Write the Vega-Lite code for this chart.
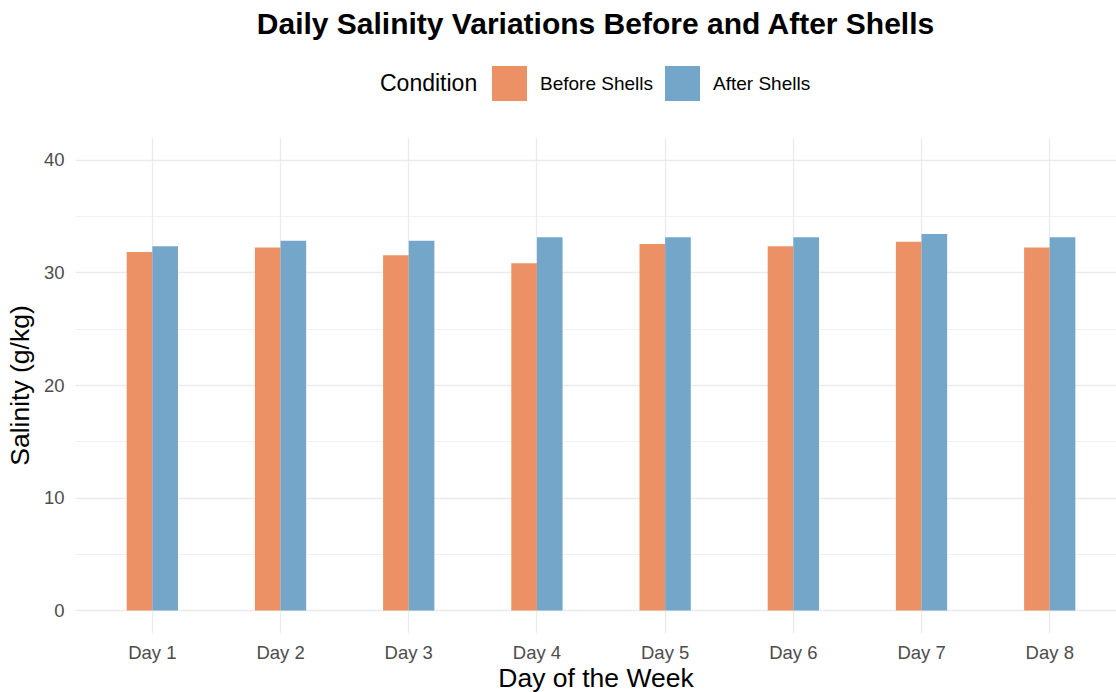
{
  "$schema": "https://vega.github.io/schema/vega-lite/v6.json",
  "width": 1041,
  "height": 496,
  "autosize": {"type": "none"},
  "padding": {"left": 75, "top": 137, "right": 0, "bottom": 59},
  "background": "white",
  "title": {
    "text": "Daily Salinity Variations Before and After Shells",
    "fontSize": 30,
    "fontWeight": "bold",
    "font": "Liberation Sans",
    "color": "black",
    "anchor": "middle",
    "offset": 26
  },
  "data": {
    "values": [
      {"Day": "Day 1", "Condition": "Before Shells", "Salinity": 31.8},
      {"Day": "Day 1", "Condition": "After Shells", "Salinity": 32.3},
      {"Day": "Day 2", "Condition": "Before Shells", "Salinity": 32.2},
      {"Day": "Day 2", "Condition": "After Shells", "Salinity": 32.8},
      {"Day": "Day 3", "Condition": "Before Shells", "Salinity": 31.5},
      {"Day": "Day 3", "Condition": "After Shells", "Salinity": 32.8},
      {"Day": "Day 4", "Condition": "Before Shells", "Salinity": 30.8},
      {"Day": "Day 4", "Condition": "After Shells", "Salinity": 33.1},
      {"Day": "Day 5", "Condition": "Before Shells", "Salinity": 32.5},
      {"Day": "Day 5", "Condition": "After Shells", "Salinity": 33.1},
      {"Day": "Day 6", "Condition": "Before Shells", "Salinity": 32.3},
      {"Day": "Day 6", "Condition": "After Shells", "Salinity": 33.1},
      {"Day": "Day 7", "Condition": "Before Shells", "Salinity": 32.7},
      {"Day": "Day 7", "Condition": "After Shells", "Salinity": 33.4},
      {"Day": "Day 8", "Condition": "Before Shells", "Salinity": 32.2},
      {"Day": "Day 8", "Condition": "After Shells", "Salinity": 33.1}
    ]
  },
  "mark": {"type": "bar", "stroke": null},
  "encoding": {
    "x": {
      "field": "Day",
      "type": "nominal",
      "scale": {"paddingInner": 0.6, "paddingOuter": 0.36, "align": 0.56},
      "axis": {
        "title": "Day of the Week",
        "labelAngle": 0,
        "labelFontSize": 18.5,
        "labelColor": "#4d4d4d",
        "labelFont": "Liberation Sans",
        "labelPadding": 10,
        "titleFontSize": 26.5,
        "titleFont": "Liberation Sans",
        "titleFontWeight": "normal",
        "titleColor": "black",
        "titlePadding": 4,
        "ticks": false,
        "domain": false,
        "grid": true,
        "bandPosition": 0.5,
        "gridColor": "#ebebeb",
        "gridWidth": 1.3
      }
    },
    "xOffset": {
      "field": "Condition",
      "type": "nominal",
      "sort": ["Before Shells", "After Shells"],
      "scale": {"paddingInner": 0, "paddingOuter": 0}
    },
    "y": {
      "field": "Salinity",
      "type": "quantitative",
      "scale": {"domain": [-2, 42], "nice": false, "zero": false},
      "axis": {
        "title": "Salinity (g/kg)",
        "values": [0, 5, 10, 15, 20, 25, 30, 35, 40],
        "labelExpr": "datum.value % 10 === 0 ? datum.label : ''",
        "labelFontSize": 18.5,
        "labelColor": "#4d4d4d",
        "labelFont": "Liberation Sans",
        "labelPadding": 11,
        "titleFontSize": 26.5,
        "titleFont": "Liberation Sans",
        "titleFontWeight": "normal",
        "titleColor": "black",
        "titlePadding": 9,
        "ticks": false,
        "domain": false,
        "grid": true,
        "gridColor": "#ebebeb",
        "gridWidth": {"condition": {"test": "datum.value % 10 === 0", "value": 1.3}, "value": 0.7}
      }
    },
    "y2": {"datum": 0},
    "color": {
      "field": "Condition",
      "type": "nominal",
      "scale": {"domain": ["Before Shells", "After Shells"], "range": ["#EC9165", "#73A6C9"]},
      "legend": {
        "orient": "top",
        "direction": "horizontal",
        "title": "Condition",
        "titleOrient": "left",
        "titleFontSize": 23,
        "titleFont": "Liberation Sans",
        "titleFontWeight": "normal",
        "titleColor": "black",
        "titlePadding": 14,
        "labelFontSize": 19,
        "labelFont": "Liberation Sans",
        "labelColor": "black",
        "labelOffset": 13,
        "symbolType": "square",
        "symbolSize": 1225,
        "symbolStrokeWidth": 0,
        "columnPadding": 11,
        "offset": 36
      }
    }
  },
  "config": {
    "view": {"stroke": null},
    "legend": {"layout": {"top": {"anchor": "middle"}}}
  }
}
